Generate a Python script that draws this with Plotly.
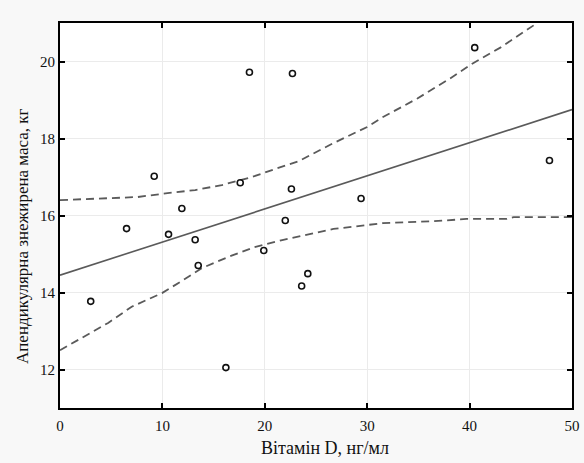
import plotly.graph_objects as go

# Data points
vit_d = [3.0, 6.5, 9.2, 10.6, 11.9, 13.2, 13.5, 16.2, 17.6, 18.5, 19.9, 22.0, 22.6, 22.7, 23.6, 24.2, 29.4, 40.5, 47.8]
mass = [13.77, 15.66, 17.02, 15.51, 16.18, 15.37, 14.70, 12.05, 16.85, 19.72, 15.09, 15.87, 16.69, 19.69, 14.17, 14.49, 16.44, 20.36, 17.43]

# Regression line (read endpoints)
fit_x = [0, 50]
fit_y = [14.45, 18.75]

# Upper confidence band
up_x = [0, 2.7, 5.1, 7.6, 10.5, 13.2, 15.8, 18.75, 20.7, 23.3, 26.7, 30.0, 31.5, 34.9, 38.1, 40.3, 43.0, 46.2, 46.6]
up_y = [16.40, 16.43, 16.45, 16.48, 16.58, 16.66, 16.79, 17.00, 17.18, 17.41, 17.88, 18.30, 18.55, 19.04, 19.56, 19.95, 20.36, 20.93, 21.0]

# Lower confidence band
lo_x = [0, 2.7, 4.7, 7.0, 10.0, 12.5, 13.9, 16.4, 19.0, 21.7, 24.0, 26.7, 31.5, 36.4, 39.7, 43.6, 44.3, 50]
lo_y = [12.50, 12.90, 13.21, 13.63, 13.99, 14.40, 14.64, 14.92, 15.18, 15.36, 15.50, 15.65, 15.80, 15.85, 15.91, 15.91, 15.96, 15.96]

x_ticks = [0, 10, 20, 30, 40, 50]
y_ticks = [12, 14, 16, 18, 20]

x_title = "Вітамін D, нг/мл"
y_title = "Апендикулярна знежирена маса, кг"

line_col = "#5a5a5a"
text_col = "#111111"
font_family = "Liberation Serif, Times New Roman, serif"

fig = go.Figure()
fig.add_trace(go.Scatter(x=up_x, y=up_y, mode="lines",
                         line=dict(color=line_col, width=1.8, dash="8px,5px"), hoverinfo="skip"))
fig.add_trace(go.Scatter(x=lo_x, y=lo_y, mode="lines",
                         line=dict(color=line_col, width=1.8, dash="8px,5px"), hoverinfo="skip"))
fig.add_trace(go.Scatter(x=fit_x, y=fit_y, mode="lines",
                         line=dict(color=line_col, width=1.6)))
fig.add_trace(go.Scatter(x=vit_d, y=mass, mode="markers",
                         marker=dict(symbol="circle-open", size=6, color=text_col,
                                     line=dict(width=1.6, color=text_col))))

axis_common = dict(
    showline=True, linecolor="black", linewidth=2, mirror="ticks",
    ticks="inside", ticklen=5, tickwidth=1.5, tickcolor="black",
    showgrid=True, gridcolor="#ebebeb", gridwidth=1, zeroline=False,
    tickfont=dict(family=font_family, size=15, color=text_col),
    automargin=False,
)

fig.update_xaxes(range=[0, 50], tickvals=x_ticks, ticklabelstandoff=3, **axis_common)
fig.update_yaxes(range=[11, 21], tickvals=y_ticks, ticklabelstandoff=0, **axis_common)

fig.add_annotation(text=x_title, xref="paper", yref="paper",
                   x=(324.5 - 60) / 512, y=(408 - 448) / 385,
                   xanchor="center", yanchor="middle", showarrow=False,
                   font=dict(family=font_family, size=18, color=text_col))
fig.add_annotation(text=y_title, xref="paper", yref="paper",
                   x=(22 - 60) / 512, y=(408 - 236) / 385, textangle=-90,
                   xanchor="center", yanchor="middle", showarrow=False,
                   font=dict(family=font_family, size=17, color=text_col))

fig.update_layout(
    width=584, height=463,
    margin=dict(l=60, r=12, t=23, b=55),
    paper_bgcolor="#f8f8f8", plot_bgcolor="white",
    showlegend=False,
    font=dict(family=font_family),
)

fig.write_html("out.html", config={"displayModeBar": False},
               post_script="document.body.style.margin='0';document.body.style.overflow='hidden';")
